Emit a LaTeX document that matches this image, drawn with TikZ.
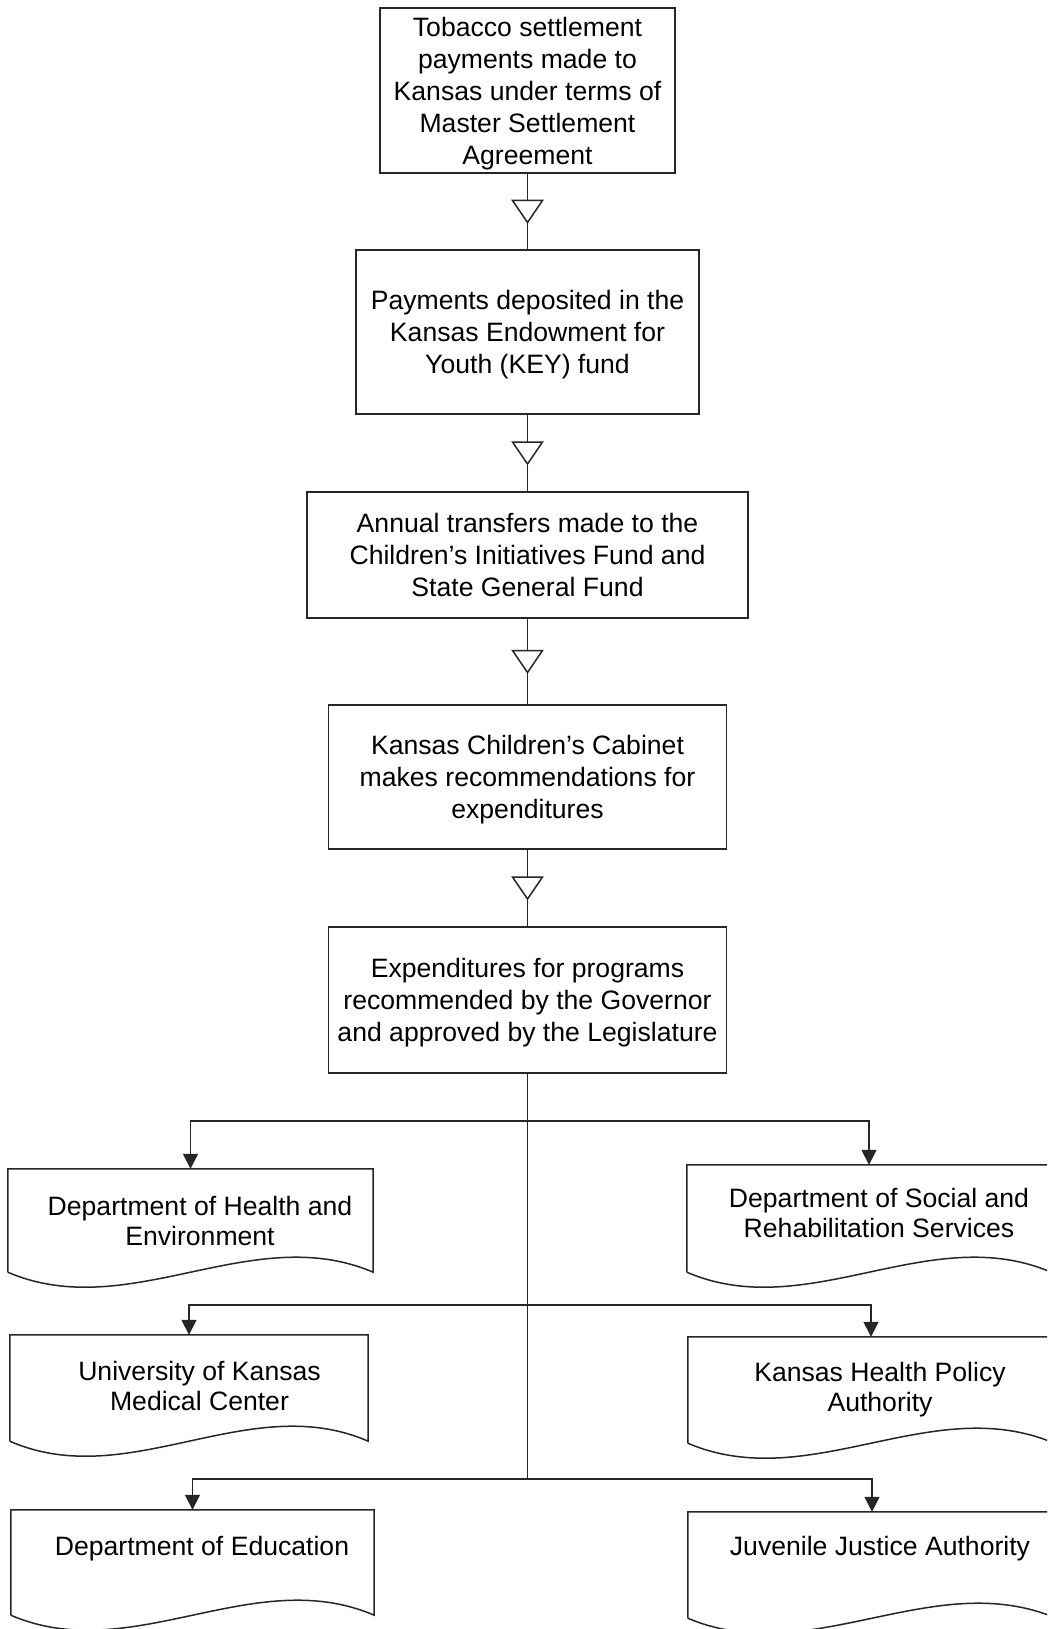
\documentclass[tikz,border=0pt]{standalone}
\usepackage{fontspec}
\setmainfont{Liberation Sans}
\usetikzlibrary{arrows.meta,calc}
\newcommand\docshape[1]{\draw[line] (#1.south west) -- (#1.north west) -- (#1.north east) -- (#1.south east) .. controls ($(#1.south east)!0.333!(#1.south west)+(0,-52)$) and ($(#1.south east)!0.667!(#1.south west)+(0,52)$) .. (#1.south west);}
\begin{document}
\begin{tikzpicture}[x=1pt,y=-1pt,
  line/.style={line width=1.5pt, draw=black!85},
  mainbox/.style={draw=black!85, line width=1.5pt, rectangle, inner sep=0pt, align=center, text depth=0pt, font=\fontsize{26.6}{32}\selectfont},
  docarea/.style={rectangle, inner sep=0pt, draw=none},
  doctext/.style={align=center, inner sep=0pt, font=\fontsize{26.6}{30}\selectfont},
  branch/.style={line, -{Triangle[length=15pt,width=15pt]}},
  flowtri/.style={line, fill=white}]
\useasboundingbox (0,0) rectangle (1047,1629);
\clip (0,0) rectangle (1047,1629);
\fill[white] (0,0) rectangle (1047,1629);

% main flow boxes
\node[mainbox, minimum width=295pt, minimum height=165pt] (b1) at (527.5,90.5) {Tobacco settlement\\payments made to\\Kansas under terms of\\Master Settlement\\Agreement};
\node[mainbox, minimum width=343pt, minimum height=164pt] (b2) at (527.5,332) {Payments deposited in the\\Kansas Endowment for\\Youth (KEY) fund};
\node[mainbox, minimum width=441pt, minimum height=126pt] (b3) at (527.5,555) {Annual transfers made to the\\Children’s Initiatives Fund and\\State General Fund};
\node[mainbox, minimum width=398pt, minimum height=144pt] (b4) at (527.5,777) {Kansas Children’s Cabinet\\makes recommendations for\\expenditures};
\node[mainbox, minimum width=398pt, minimum height=146pt] (b5) at (527.5,1000) {Expenditures for programs\\recommended by the Governor\\and approved by the Legislature};

% connectors with open triangles
\foreach \a/\b/\m in {b1/b2/m1, b2/b3/m2, b3/b4/m3, b4/b5/m4}{
  \draw[line] (\a) -- (\b);
  \coordinate (\m) at ($(\a.south)!0.5!(\b.north)$);
  \draw[flowtri] ($(\m)+(-15,-11)$) -- ++(30,0) -- ++(-15,22) -- cycle;
}

% document shapes
\node[docarea, minimum width=365pt, minimum height=103pt] (dhe) at (190.5,1220.5) {};
\node[docarea, minimum width=358pt, minimum height=106pt] (ukmc) at (189,1388) {};
\node[docarea, minimum width=363pt, minimum height=105pt] (de) at (192.5,1562.5) {};
\node[docarea, minimum width=364pt, minimum height=107pt] (dsrs) at (869,1218.5) {};
\node[docarea, minimum width=366pt, minimum height=106pt] (khpa) at (871,1390) {};
\node[docarea, minimum width=368pt, minimum height=106pt] (jja) at (872,1565) {};
\docshape{dhe}
\docshape{ukmc}
\docshape{de}
\docshape{dsrs}
\docshape{khpa}
\docshape{jja}

\node[doctext] (dhe-t) at (200,1221) {Department of Health and\\Environment};
\node[doctext] (ukmc-t) at (199.5,1385.5) {University of Kansas\\Medical Center};
\node[doctext] (de-t) at (202,1549) {Department of Education};
\node[doctext] (dsrs-t) at (879,1213) {Department of Social and\\Rehabilitation Services};
\node[doctext] (khpa-t) at (880,1389.5) {Kansas Health Policy\\Authority};
\node[doctext] (jja-t) at (880,1549) {Juvenile Justice Authority};

% trunk and branches
\coordinate (j1) at (527.5,1121);
\coordinate (j2) at (527.5,1305);
\coordinate (j3) at (527.5,1479);
\draw[line] (b5) -- (j3);
\draw[branch] (j1) -| (dhe.north);
\draw[branch] (j1) -| (dsrs.north);
\draw[branch] (j2) -| (ukmc.north);
\draw[branch] (j2) -| (khpa.north);
\draw[branch] (j3) -| (de.north);
\draw[branch] (j3) -| (jja.north);
\end{tikzpicture}
\end{document}
